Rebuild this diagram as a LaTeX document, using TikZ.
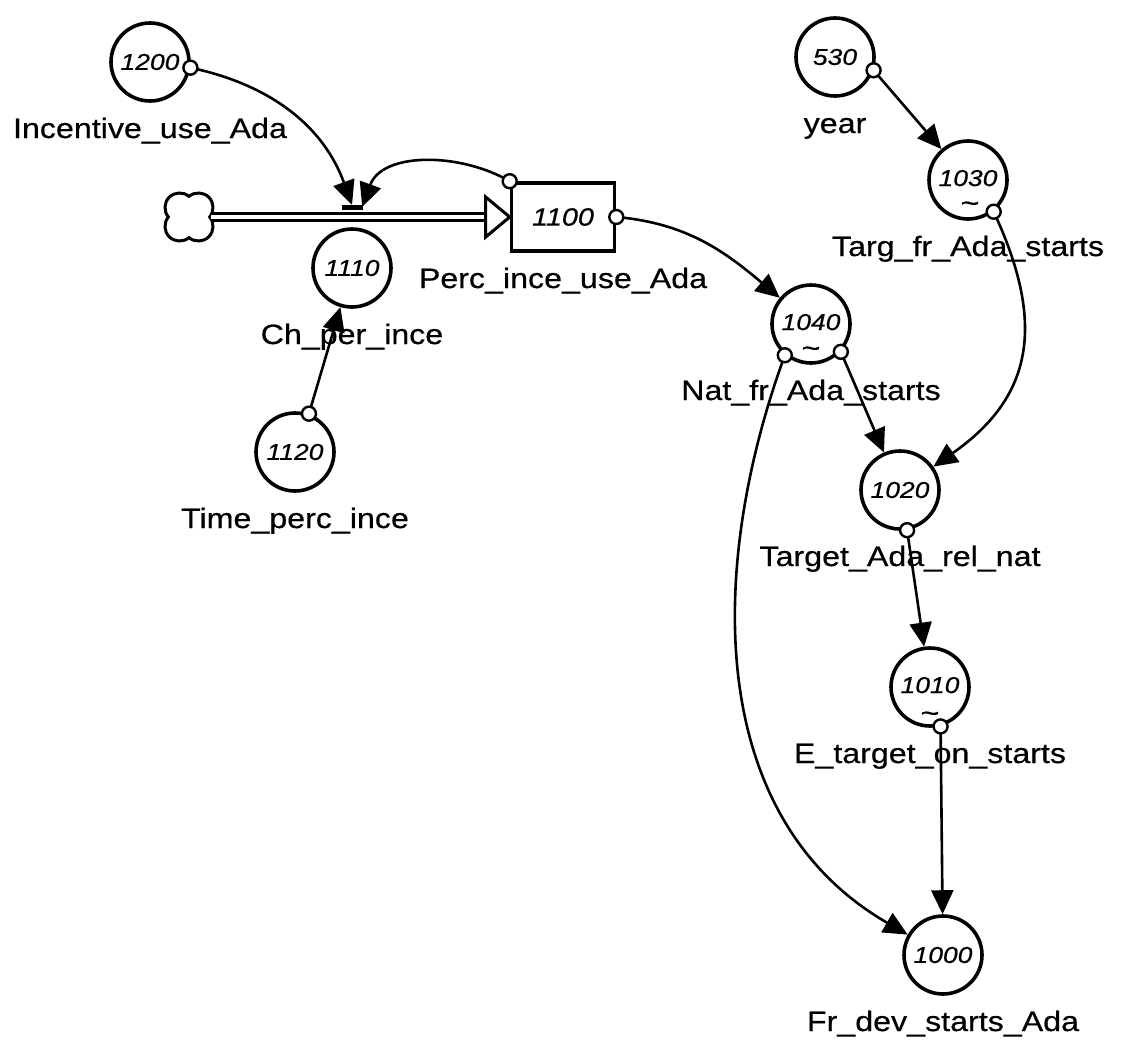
\documentclass[tikz,border=0pt]{standalone}
\usepackage{fontspec}
\setmainfont{Liberation Sans}[FakeStretch=1.15, FakeBold=0.5]
\usetikzlibrary{arrows.meta,positioning,shapes.symbols}

\begin{document}
\begin{tikzpicture}[x=1pt, y=1pt,
    node distance=15pt,
    conv/.style={draw, circle, line width=3.6pt, minimum size=78pt, inner sep=0pt, font=\fontsize{23}{23}\selectfont\itshape},
    stock/.style={draw, rectangle, line width=3.6pt, minimum width=103pt, minimum height=68pt, font=\fontsize{25}{25}\selectfont\itshape},
    lbl/.style={inner sep=0pt, text height=20pt, text depth=6pt, font=\fontsize{28}{28}\selectfont},
    tld/.style={inner sep=0pt, font=\fontsize{28}{28}\selectfont},
    tap/.style={draw, circle, fill=white, line width=2.4pt, minimum size=14pt, inner sep=0pt},
    valve/.style={draw, fill=black, rectangle, minimum width=20pt, minimum height=4pt, inner sep=0pt},
    link/.style={-{Triangle[length=24pt, width=22pt]}, line width=2.6pt},
    pipe/.style={double, double distance=4pt, line width=3pt},
    source/.style={draw, cloud, cloud puffs=4, cloud puff arc=170, aspect=1, minimum size=56pt, line width=3pt, rotate=45}
]
\useasboundingbox (0,0) rectangle (1126,-1049);
\node[source] (cloud) at (189,-217) {};
\node[stock] (s1100) at (563,-217) {1100};
\node[conv] (c1110) at (352,-268) {1110};
\node[conv] (c1200) at (150,-62) {1200};
\node[conv] (c1120) at (295,-452) {1120};
\node[conv] (c530) at (835,-57) {530};
\node[conv] (c1030) at (968,-180) {\raisebox{4pt}{1030}};
\node[conv] (c1040) at (811,-324) {\raisebox{4pt}{1040}};
\node[conv] (c1020) at (900,-490) {1020};
\node[conv] (c1010) at (930,-687) {\raisebox{4pt}{1010}};
\node[conv] (c1000) at (943,-955) {1000};
\node[tld] (t1030) at ([shift={(2,-27)}]c1030.center) {\textasciitilde};
\node[tld] (t1040) at ([shift={(0,-28)}]c1040.center) {\textasciitilde};
\node[tld] (t1010) at ([shift={(0,-30)}]c1010.center) {\textasciitilde};
\node[lbl, below=of c1200] (l1200) {Incentive\_use\_Ada};
\node[lbl, below=of s1100] (l1100) {Perc\_ince\_use\_Ada};
\node[lbl, below=of c1110] (l1110) {Ch\_per\_ince};
\node[lbl, below=of c1120] (l1120) {Time\_perc\_ince};
\node[lbl, below=of c530] (l530) {year};
\node[lbl, below=of c1030] (l1030) {Targ\_fr\_Ada\_starts};
\node[lbl, below=of c1040] (l1040) {Nat\_fr\_Ada\_starts};
\node[lbl, below=of c1020] (l1020) {Target\_Ada\_rel\_nat};
\node[lbl, below=of c1010] (l1010) {E\_target\_on\_starts};
\node[lbl, below=of c1000] (l1000) {Fr\_dev\_starts\_Ada};
\draw[pipe, shorten <=22pt] (cloud.center) -- ([xshift=-24pt]s1100.west);
\draw[line width=3pt, fill=white] ([shift={(-24,20)}]s1100.west) -- (s1100.west) -- ([shift={(-24,-20)}]s1100.west) -- cycle;
\node[valve] (v1110) at (352,-207) {};
\draw[link] (c1200.-8) node[tap] (d1200) {} to[out=-12, in=110] (v1110.north);
\draw[link] (s1100.north west) node[tap] (d1100a) {} to[out=150, in=70] (v1110.east);
\draw[link] (c1120.70) node[tap] (d1120) {} -- (c1110);
\draw[link] (s1100.east) node[tap] (d1100b) {} to[out=-5, in=140] (c1040);
\draw[link] (c530.-19) node[tap] (d530) {} -- (c1030);
\draw[link] (c1030.-51) node[tap] (d1030) {} to[out=-65, in=35, looseness=1.2] (c1020);
\draw[link] (c1040.-43) node[tap] (d1040a) {} -- (c1020);
\draw[link] (c1040.-130) node[tap] (d1040b) {} to[out=-110, in=150] (c1000);
\draw[link] (c1020.-80) node[tap] (d1020) {} -- (c1010);
\draw[link] (c1010.-75) node[tap] (d1010) {} -- (c1000);
\end{tikzpicture}
\end{document}
